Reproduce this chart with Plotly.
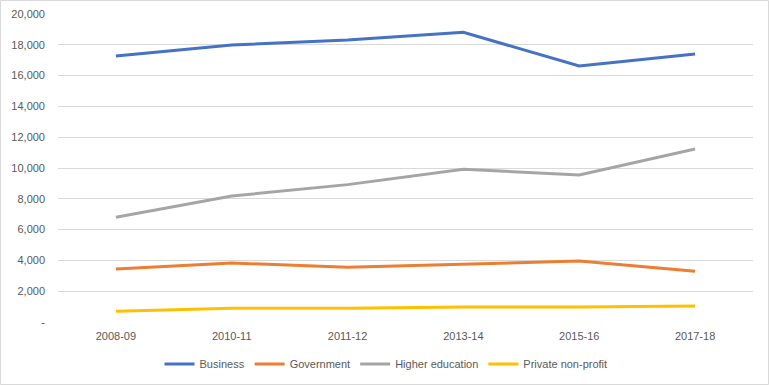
import plotly.graph_objects as go

categories = ["2008-09", "2010-11", "2011-12", "2013-14", "2015-16", "2017-18"]
business = [17270, 17990, 18310, 18810, 16620, 17400]
government = [3440, 3830, 3550, 3740, 3960, 3290]
higher_education = [6800, 8180, 8920, 9920, 9550, 11230]
private_non_profit = [690, 900, 900, 970, 970, 1040]

series = [
    ("Business", business, "#4472C4"),
    ("Government", government, "#ED7D31"),
    ("Higher education", higher_education, "#A5A5A5"),
    ("Private non-profit", private_non_profit, "#FFC000"),
]

y_ticks = [0, 2000, 4000, 6000, 8000, 10000, 12000, 14000, 16000, 18000, 20000]
y_ticktext = ["-"] + [f"{v:,}" for v in y_ticks[1:]]

fig = go.Figure()
for name, vals, color in series:
    fig.add_trace(go.Scatter(
        x=categories, y=vals, name=name, mode="lines",
        line=dict(color=color, width=3),
    ))

W, H = 769, 385
ml, mr, mt, mb = 58, 16, 14, 63
pw, ph = W - ml - mr, H - mt - mb

fig.update_layout(
    width=W, height=H,
    margin=dict(l=ml, r=mr, t=mt, b=mb, pad=0, autoexpand=False),
    paper_bgcolor="white", plot_bgcolor="white",
    font=dict(family="Liberation Sans, Arial, sans-serif", size=11, color="#595959"),
    showlegend=True,
    legend=dict(orientation="h", x=(386 - ml) / pw, xanchor="center", y=-42 / ph, yanchor="middle",
                font=dict(size=11, color="#595959"), itemwidth=30, tracegroupgap=0),
    xaxis=dict(type="category", range=[-0.5, 5.5], showgrid=False, showline=False,
               zeroline=False, ticks="", tickfont=dict(size=11, color="#595959"),
               ticklabelstandoff=6, automargin=False),
    yaxis=dict(range=[0, 20000], tickvals=y_ticks, ticktext=y_ticktext,
               showgrid=True, gridcolor="#D9D9D9", gridwidth=1, zeroline=False,
               showline=False, ticks="", tickfont=dict(size=11, color="#595959"),
               ticklabelstandoff=12, automargin=False),
    shapes=[dict(type="rect", xref="paper", yref="paper",
                 x0=-(ml - 0.5) / pw, x1=1 + (mr - 0.5) / pw,
                 y0=-(mb - 0.5) / ph, y1=1 + (mt - 0.5) / ph,
                 line=dict(color="#D9D9D9", width=1), layer="below")],
)

fig.write_html("out.html", config={"displayModeBar": False},
               post_script="document.body.style.margin='0';document.body.style.overflow='hidden';")
